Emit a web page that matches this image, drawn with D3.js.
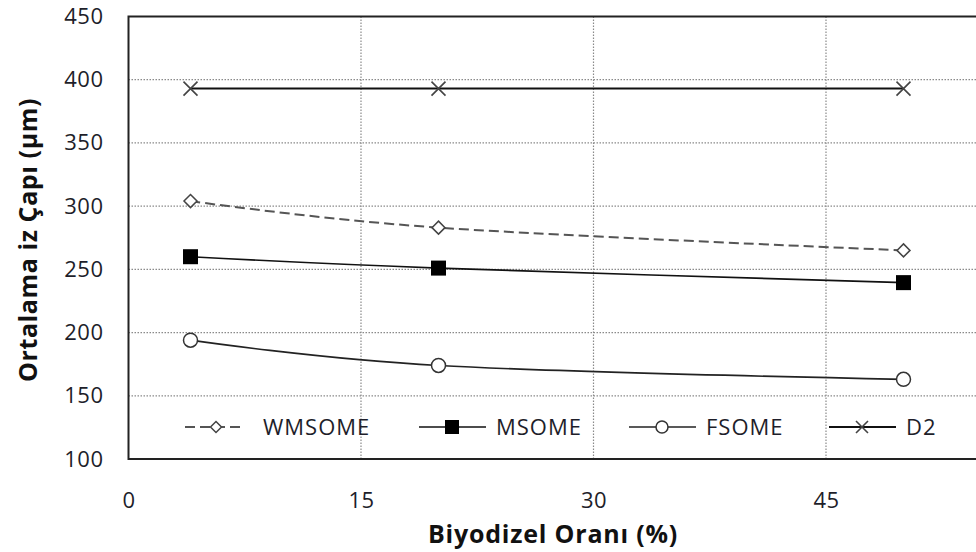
<!DOCTYPE html>
<html><head><meta charset="utf-8">
<script src="https://cdn.jsdelivr.net/npm/d3@7"></script>
<style>
html,body{margin:0;padding:0;background:#fff;overflow:hidden;}
text{font-family:"Open Sans",sans-serif;}
</style></head>
<body><svg id="c" width="976" height="552"></svg>
<script>
const xValues = [4, 20, 50];
const seriesNames = ["WMSOME", "MSOME", "FSOME", "D2"];
const wmsome = [304, 283, 265];
const msome = [260, 251, 239.5];
const fsome = [194, 174, 163];
const d2 = [393, 393, 393];
const xTicks = [0, 15, 30, 45];
const yTicks = [100, 150, 200, 250, 300, 350, 400, 450];
const xTitle = "Biyodizel Oranı (%)";
const yTitle = "Ortalama iz Çapı (µm)";

const svg = d3.select("#c");
const L = 128.5, T = 16.5, B = 459;
const xMax = 60;
const x = d3.scaleLinear().domain([0, xMax]).range([L, L + xMax * 15.5]);
const y = d3.scaleLinear().domain([100, 450]).range([B, T]);

// gridlines
const g = svg.append("g");
g.selectAll(".gy").data(yTicks.filter(v => v > 100 && v < 450)).enter().append("line")
  .attr("x1", L).attr("x2", x(xMax)).attr("y1", d => y(d)).attr("y2", d => y(d))
  .attr("stroke", "#8a8a8a").attr("stroke-width", 1.2).attr("stroke-dasharray", "1.5,1.5");
g.selectAll(".gx").data(xTicks.filter(v => v > 0)).enter().append("line")
  .attr("x1", d => x(d)).attr("x2", d => x(d)).attr("y1", T).attr("y2", B)
  .attr("stroke", "#8a8a8a").attr("stroke-width", 1.2).attr("stroke-dasharray", "1.5,1.5");

// frame
svg.append("rect").attr("x", L).attr("y", T).attr("width", x(xMax) - L).attr("height", B - T)
  .attr("fill", "none").attr("stroke", "#222").attr("stroke-width", 2);

// axes (labels only)
const xAxis = svg.append("g").attr("transform", `translate(0,${B})`)
  .call(d3.axisBottom(x).tickValues(xTicks).tickSize(0).tickPadding(33));
const yAxis = svg.append("g").attr("transform", `translate(${L},0)`)
  .call(d3.axisLeft(y).tickValues(yTicks).tickSize(0).tickPadding(25));
[xAxis, yAxis].forEach(a => {
  a.select(".domain").remove();
  a.selectAll("text").attr("font-family", "Open Sans, sans-serif").attr("font-size", 22)
    .attr("letter-spacing", 0.5).attr("fill", "#1e1e2a");
});

// titles
svg.append("text").attr("x", 553).attr("y", 543).attr("text-anchor", "middle")
  .attr("font-size", 25).attr("letter-spacing", 0.8).attr("font-weight", "bold").attr("fill", "#111").text(xTitle);
svg.append("text").attr("transform", "translate(37,240) rotate(-90)").attr("text-anchor", "middle")
  .attr("font-size", 25).attr("letter-spacing", 0.6).attr("font-weight", "bold").attr("fill", "#111").text(yTitle);

const line = d3.line().x(d => x(d[0])).y(d => y(d[1])).curve(d3.curveCatmullRom.alpha(0));
const pts = arr => xValues.map((v, i) => [v, arr[i]]);

const seriesData = [wmsome, msome, fsome, d2];
const styles = [
  {stroke: "#555", dash: "10,5", width: 2},
  {stroke: "#111", dash: null, width: 1.6},
  {stroke: "#222", dash: null, width: 1.6},
  {stroke: "#111", dash: null, width: 2}
];

function marker(sel, idx, cx, cy, s) {
  if (idx === 0) {
    const h = s / 2;
    sel.append("path").attr("d", `M${cx},${cy - h}L${cx + h},${cy}L${cx},${cy + h}L${cx - h},${cy}Z`)
      .attr("fill", "#fff").attr("stroke", "#444").attr("stroke-width", 1.5);
  } else if (idx === 1) {
    sel.append("rect").attr("x", cx - s / 2).attr("y", cy - s / 2).attr("width", s).attr("height", s)
      .attr("fill", "#000");
  } else if (idx === 2) {
    sel.append("circle").attr("cx", cx).attr("cy", cy).attr("r", s / 2)
      .attr("fill", "#fff").attr("stroke", "#333").attr("stroke-width", 1.5);
  } else {
    const h = s / 2;
    sel.append("path").attr("d", `M${cx - h},${cy - h}L${cx + h},${cy + h}M${cx - h},${cy + h}L${cx + h},${cy - h}`)
      .attr("stroke", "#444").attr("stroke-width", 1.6).attr("fill", "none");
  }
}
const mSize = [13, 15, 14, 14];

seriesData.forEach((arr, i) => {
  const st = styles[i];
  svg.append("path").datum(pts(arr)).attr("d", line).attr("fill", "none")
    .attr("stroke", st.stroke).attr("stroke-width", st.width).attr("stroke-dasharray", st.dash);
  const mg = svg.append("g");
  pts(arr).forEach(p => marker(mg, i, x(p[0]), y(p[1]), mSize[i]));
});

// legend
const legY = 427;
const legItems = [
  {x1: 185, x2: 243, mx: 216, tx: 263},
  {x1: 419, x2: 486, mx: 452, tx: 496},
  {x1: 629, x2: 696, mx: 662, tx: 706},
  {x1: 829, x2: 896, mx: 862, tx: 906}
];
const legSize = [11, 14, 12, 12];
legItems.forEach((it, i) => {
  const st = styles[i];
  const lg = svg.append("g");
  lg.append("line").attr("x1", it.x1).attr("x2", it.x2).attr("y1", legY).attr("y2", legY)
    .attr("stroke", st.stroke).attr("stroke-width", st.width).attr("stroke-dasharray", st.dash);
  marker(lg, i, it.mx, legY, legSize[i]);
  lg.append("text").attr("x", it.tx).attr("y", legY).attr("dy", "0.36em")
    .attr("font-size", 22).attr("letter-spacing", 1).attr("fill", "#1e1e2a").text(seriesNames[i]);
});
</script></body></html>
